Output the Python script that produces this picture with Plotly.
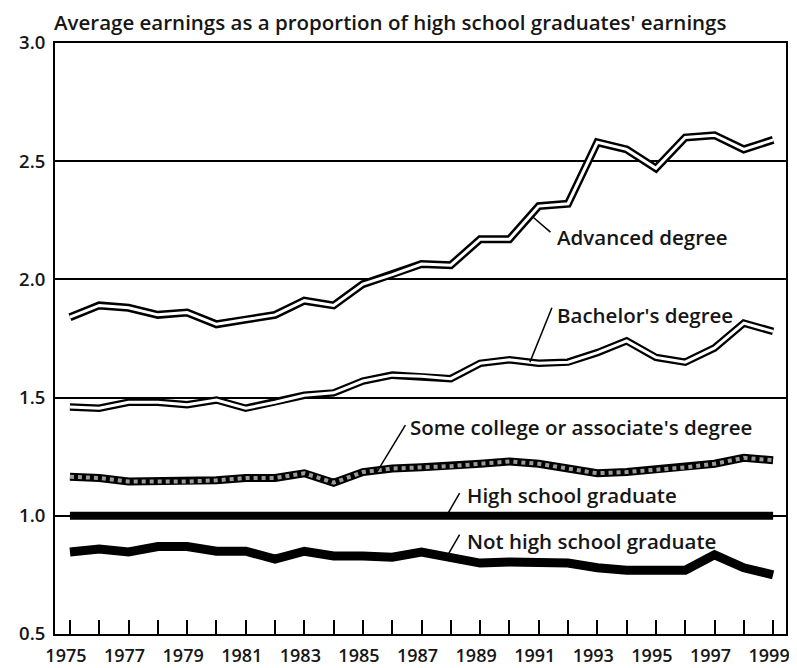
import plotly.graph_objects as go

years = list(range(1975, 2000))
advanced = [1.84, 1.89, 1.88, 1.85, 1.86, 1.81, 1.83, 1.85, 1.91, 1.89, 1.98, 2.02, 2.065,
            2.06, 2.17, 2.17, 2.31, 2.32, 2.58, 2.55, 2.47, 2.60, 2.61, 2.55, 2.59]
bachelor = [1.46, 1.455, 1.48, 1.48, 1.47, 1.49, 1.455, 1.48, 1.51, 1.52, 1.57, 1.595, 1.59,
            1.58, 1.645, 1.66, 1.645, 1.65, 1.69, 1.74, 1.67, 1.65, 1.71, 1.815, 1.78]
some_college = [1.165, 1.16, 1.145, 1.145, 1.145, 1.15, 1.16, 1.16, 1.18, 1.14, 1.185, 1.20, 1.205,
                1.21, 1.22, 1.23, 1.22, 1.20, 1.18, 1.185, 1.195, 1.205, 1.22, 1.245, 1.235]
hs_grad = [1.0] * 25
not_hs = [0.847, 0.86, 0.847, 0.87, 0.87, 0.85, 0.85, 0.817, 0.85, 0.83, 0.83, 0.825, 0.847,
          0.82, 0.80, 0.805, 0.805, 0.80, 0.78, 0.77, 0.77, 0.77, 0.835, 0.78, 0.75]

label_texts = ["Advanced degree", "Bachelor's degree", "Some college or associate's degree",
               "High school graduate", "Not high school graduate"]
label_x = [1991.55, 1991.55, 1986.55, 1988.5, 1988.5]
label_y = [2.18, 1.85, 1.376, 1.088, 0.893]
leader_start = [(1990.8, 2.264), (1990.7, 1.65), (1985.5, 1.19), (1987.9, 1.01), (1987.9, 0.835)]
leader_end = [(1991.4, 2.20), (1991.45, 1.88), (1986.45, 1.384), (1988.3, 1.096), (1988.3, 0.92)]

title_text = "Average earnings as a proportion of high school graduates' earnings"
y_ticks = [0.5, 1.0, 1.5, 2.0, 2.5, 3.0]
x_ticks = list(range(1975, 2000, 2))

FONT = "Open Sans"
TXT = dict(family=FONT, size=20.5, color="#161616", weight=600)
TICK = dict(family=FONT, size=18.5, color="#161616", weight=600)
XTICK = dict(family=FONT, size=18, color="#161616", weight=600)
fig = go.Figure()

def double_line(y, name, outer=8, inner=3):
    fig.add_trace(go.Scatter(x=years, y=y, mode="lines", name=name,
                             line=dict(color="black", width=outer), hoverinfo="skip"))
    fig.add_trace(go.Scatter(x=years, y=y, mode="lines", name=name,
                             line=dict(color="white", width=inner)))

double_line(advanced, "Advanced degree", 8, 3)
double_line(bachelor, "Bachelor's degree", 7.5, 3)
fig.add_trace(go.Scatter(x=years, y=some_college, mode="lines", name="Some college",
                         line=dict(color="black", width=8)))
fig.add_trace(go.Scatter(x=years, y=some_college, mode="lines", name="Some college",
                         line=dict(color="#9a9a9a", width=4, dash="dot")))
fig.add_trace(go.Scatter(x=years, y=hs_grad, mode="lines", name="High school graduate",
                         line=dict(color="black", width=8)))
fig.add_trace(go.Scatter(x=years, y=not_hs, mode="lines", name="Not high school graduate",
                         line=dict(color="black", width=9)))

for (x0, y0), (x1, y1) in zip(leader_start, leader_end):
    fig.add_shape(type="line", xref="x", yref="y", x0=x0, y0=y0, x1=x1, y1=y1,
                  line=dict(color="black", width=1.5))

for t, x, y in zip(label_texts, label_x, label_y):
    fig.add_annotation(x=x, y=y, xref="x", yref="y", text=t, showarrow=False,
                       xanchor="left", yanchor="middle", font=TXT)

fig.add_annotation(x=0, y=1, xref="paper", yref="paper", text=title_text, showarrow=False,
                   xanchor="left", yanchor="bottom", xshift=-3, yshift=5, font=TXT)

# page body adds an 8px offset, so the figure is 8px smaller than the window
fig.update_layout(
    width=789, height=660,
    margin=dict(l=47, r=11, t=35, b=34, autoexpand=False),
    paper_bgcolor="white", plot_bgcolor="white",
    showlegend=False,
    font=TXT,
)
fig.update_xaxes(
    range=[1974.49, 1999.44], tickvals=x_ticks, ticktext=[str(v) for v in x_ticks],
    ticks="inside", ticklen=14, tickwidth=2, tickcolor="black",
    minor=dict(dtick=1, tick0=1975, ticks="inside", ticklen=14, tickwidth=2, tickcolor="black"),
    showline=True, linecolor="black", linewidth=2, mirror=True,
    showgrid=False, zeroline=False, automargin=False,
    ticklabelshift=-4, ticklabelstandoff=4, ticklabeloverflow="allow",
    tickfont=XTICK,
)
fig.update_yaxes(
    range=[0.5, 3.0], tickvals=y_ticks, ticktext=[f"{v:.1f}" for v in y_ticks],
    ticks="", ticklabelstandoff=4, showline=True, linecolor="black", linewidth=2, mirror=True,
    showgrid=True, gridcolor="black", gridwidth=2, zeroline=False, automargin=False,
    tickfont=TICK,
)

fig.write_html("out.html")
